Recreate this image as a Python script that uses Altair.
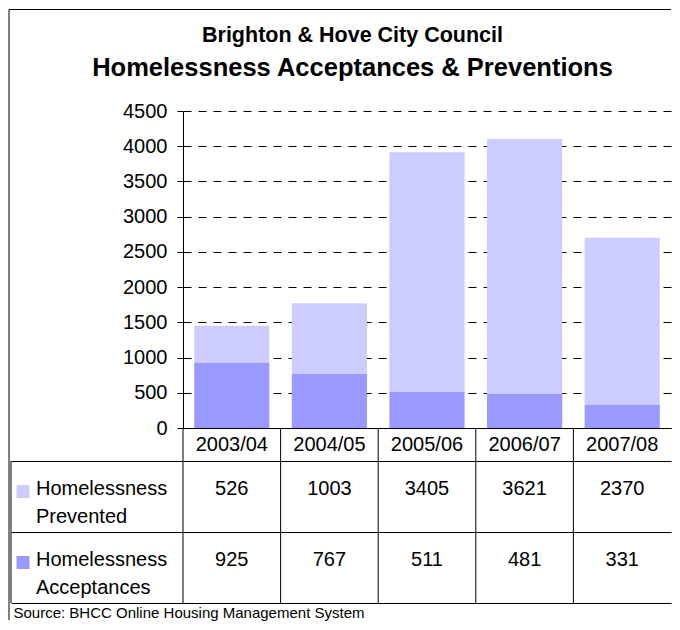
import altair as alt
import pandas as pd

# ---- data ----
years = ["2003/04", "2004/05", "2005/06", "2006/07", "2007/08"]
prevented = [526, 1003, 3405, 3621, 2370]
acceptances = [925, 767, 511, 481, 331]
series_names = ["Homelessness Prevented", "Homelessness Acceptances"]
series_colors = ["#CCCCFF", "#9999FF"]
y_ticks = [0, 500, 1000, 1500, 2000, 2500, 3000, 3500, 4000, 4500]
title_line1 = "Brighton & Hove City Council"
title_line2 = "Homelessness Acceptances & Preventions"
source_text = "Source: BHCC Online Housing Management System"

rows = []
for i, yr in enumerate(years):
    rows.append({"year": yr, "series": series_names[0], "value": prevented[i],
                 "vtxt": str(prevented[i]), "ord": 2})
    rows.append({"year": yr, "series": series_names[1], "value": acceptances[i],
                 "vtxt": str(acceptances[i]), "ord": 1})
df = pd.DataFrame(rows)
lab_df = pd.DataFrame({"series": series_names,
                       "label": [s.replace(" ", "\n") for s in series_names]})
yr_df = pd.DataFrame({"year": years})
one = pd.DataFrame({"k": [0]})

FONT = "Liberation Sans"
W = 488
H_BAR = 317
H_HDR = 33
H_BODY = 142
color_scale = alt.Scale(domain=series_names, range=series_colors)

# ---- bar chart ----
bars = alt.Chart(df).mark_bar().encode(
    x=alt.X("year:N", sort=years,
            axis=alt.Axis(labels=False, ticks=False, domain=True, domainColor="black",
                          domainWidth=1, grid=False, title=None),
            scale=alt.Scale(paddingInner=0.23, paddingOuter=0.115)),
    y=alt.Y("value:Q", stack="zero",
            scale=alt.Scale(domain=[0, 4500], nice=False),
            axis=alt.Axis(values=y_ticks, format="d", title=None, grid=True,
                          gridDash=[8, 7], gridColor="black", gridOpacity=1, gridWidth=1,
                          domainColor="black", tickColor="black", tickSize=6,
                          labelFontSize=20, labelColor="black", labelFont=FONT,
                          labelPadding=10)),
    color=alt.Color("series:N", scale=color_scale, legend=None),
    order=alt.Order("ord:Q"),
)

chart_a = bars.properties(
    width=W, height=H_BAR,
    view=alt.ViewBackground(stroke="transparent"),
    title=alt.TitleParams(text=title_line1, subtitle=title_line2, anchor="middle",
                          frame="group", dx=-74.5, offset=20, font=FONT, fontSize=21.5,
                          fontWeight="bold", color="black", subtitleFont=FONT,
                          subtitleFontSize=25.5, subtitleFontWeight="bold",
                          subtitleColor="black", subtitlePadding=9),
)

# ---- table header (years) + column lines + outer frame lines ----
x_tab = alt.X("year:N", sort=years, scale=alt.Scale(paddingInner=0, paddingOuter=0),
              axis=None)
hdr_text = alt.Chart(yr_df).mark_text(fontSize=20, font=FONT, color="black").encode(
    x=x_tab, text="year:N")
col_lines = alt.Chart(yr_df).mark_rule(color="black", strokeWidth=1).encode(
    x=alt.X("year:N", sort=years, bandPosition=0,
            scale=alt.Scale(paddingInner=0, paddingOuter=0), axis=None))
frame_top = alt.Chart(one).mark_rule(color="black", strokeWidth=1).encode(
    x=alt.value(-174), x2=alt.value(W), y=alt.value(-418.5))
frame_left = alt.Chart(one).mark_rule(color="black", strokeWidth=1).encode(
    x=alt.value(-174), y=alt.value(-418.5), y2=alt.value(H_HDR + H_BODY + 17))
hdr = alt.layer(col_lines, hdr_text, frame_top, frame_left).properties(
    width=W, height=H_HDR, view=alt.ViewBackground(stroke="transparent"))

# ---- table body ----
y_tab = alt.Y("series:N", sort=series_names, scale=alt.Scale(paddingInner=0, paddingOuter=0),
              axis=alt.Axis(grid=True, tickBand="extent", labels=False, ticks=True,
                            tickSize=172, tickColor="black", tickWidth=1, domain=False,
                            title=None, gridColor="black", gridOpacity=1, gridWidth=1))
body_lines = alt.Chart(yr_df).mark_rule(color="black", strokeWidth=1).encode(
    x=alt.X("year:N", sort=years, bandPosition=0,
            scale=alt.Scale(paddingInner=0, paddingOuter=0), axis=None))
vals = alt.Chart(df).mark_text(fontSize=20, font=FONT, color="black", dy=-8).encode(
    x=x_tab, y=y_tab, text="vtxt:N")
labels = alt.Chart(lab_df).mark_text(align="left", baseline="middle", lineBreak="\n",
                                     lineHeight=28, fontSize=20, font=FONT,
                                     color="black", dy=-8).encode(
    x=alt.value(-147), y=alt.Y("series:N", sort=series_names), text="label:N")
squares = alt.Chart(lab_df).mark_square(size=169, opacity=1, yOffset=-5).encode(
    x=alt.value(-160), y=alt.Y("series:N", sort=series_names),
    color=alt.Color("series:N", scale=color_scale, legend=None))
left_rule = alt.Chart(one).mark_rule(color="black", strokeWidth=1).encode(
    x=alt.value(-172), y=alt.value(0), y2=alt.value(H_BODY))

body = alt.layer(body_lines, vals, labels, squares, left_rule).properties(
    width=W, height=H_BODY, view=alt.ViewBackground(stroke="transparent"),
    title=alt.TitleParams(text=source_text, orient="bottom", anchor="start", frame="bounds",
                          font=FONT, fontSize=15, fontWeight="normal", color="black",
                          offset=2, dx=3),
)

chart = alt.vconcat(chart_a, hdr, body, spacing=0, bounds="flush").resolve_scale(
    x="independent", y="independent").properties(padding=0).configure(font=FONT)

chart.save("out.html", embed_options={"renderer": "svg", "actions": False})
